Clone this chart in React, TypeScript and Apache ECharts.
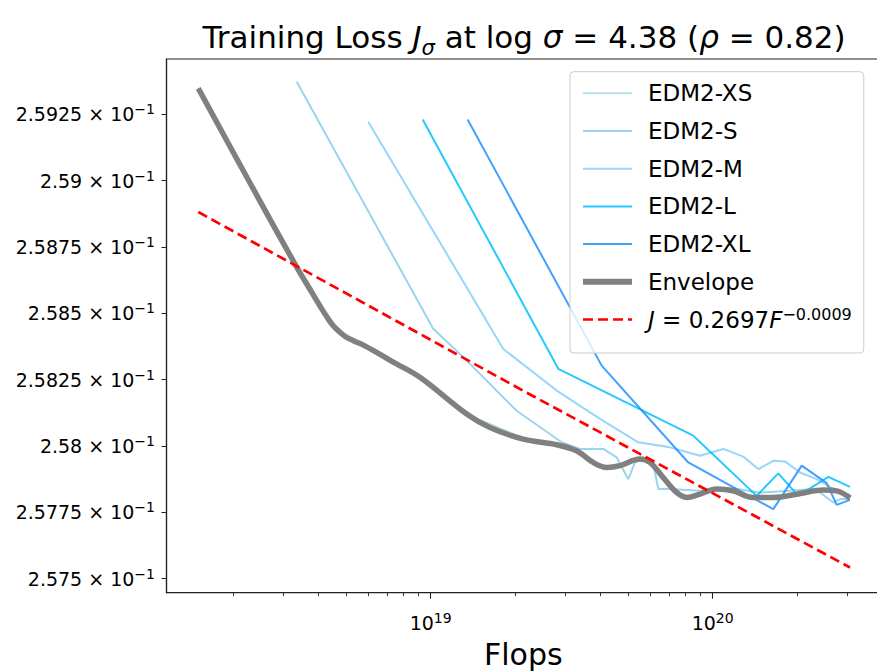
import React, { useEffect, useRef } from "react";
import * as echarts from "echarts";

const FONT = "DejaVu Sans";

const modelNames = ["EDM2-XS", "EDM2-S", "EDM2-M", "EDM2-L", "EDM2-XL"];
const modelColors = ["#ADD8E6", "#87CEEB", "#87CEFA", "#00BFFF", "#1E90FF"];
const envelopeName = "Envelope";
const fitName = "J = 0.2697F^-0.0009";

// EDM2-XS (mostly beneath the envelope)
const xsFlops = [1.5e18, 3.35e18, 4.5e18, 6.4e18, 9.2e18, 1.34e19, 2.13e19, 2.8e19];
const xsLoss = [0.25935, 0.25867, 0.25845, 0.25835, 0.25826, 0.25812, 0.25803, 0.258];

const sFlops = [3.35e18, 1.021e19, 1.305e19, 2.018e19, 2.914e19, 3.383e19, 4.094e19, 4.567e19, 5.02e19, 5.302e19, 5.834e19, 6.157e19, 6.414e19, 7.057e19, 9.016e19, 1.152e20, 1.472e20, 1.88e20, 2.306e20, 2.677e20, 2.828e20, 3.069e20];
const sLoss = [0.259373, 0.258442, 0.258335, 0.258133, 0.258014, 0.257989, 0.257989, 0.257957, 0.257875, 0.257938, 0.257957, 0.257932, 0.257838, 0.257838, 0.257831, 0.257843, 0.257824, 0.257831, 0.257839, 0.257787, 0.2578, 0.2578];

const mFlops = [6.006e18, 1.809e19, 2.798e19, 3.985e19, 5.447e19, 7.057e19, 9.016e19, 1.09e20, 1.284e20, 1.451e20, 1.64e20, 1.805e20, 2.04e20, 2.338e20, 2.828e20, 3.069e20];
const mLoss = [0.259222, 0.258366, 0.258209, 0.258102, 0.258014, 0.257995, 0.257963, 0.257989, 0.25796, 0.257913, 0.257944, 0.257942, 0.2579, 0.257875, 0.257824, 0.257816];

const lFlops = [9.368e18, 2.835e19, 8.536e19, 1.432e20, 1.708e20, 2.012e20, 2.57e20, 3.069e20];
const lLoss = [0.259231, 0.258291, 0.258039, 0.257812, 0.257897, 0.257812, 0.257884, 0.257846];

const xlFlops = [1.352e19, 4.041e19, 8.195e19, 1.64e20, 2.069e20, 2.537e20, 2.753e20, 3.069e20];
const xlLoss = [0.259231, 0.258303, 0.257938, 0.257762, 0.257926, 0.25786, 0.257778, 0.257797];

const envelopeFlops = [1.5e18, 2.23e18, 3.35e18, 3.79e18, 4.051e18, 4.289e18, 4.505e18, 4.731e18, 5.008e18, 5.346e18, 5.706e18, 6.43e18, 7.37e18, 9.16e18, 1.342e19, 1.623e19, 2.13e19, 2.8e19, 3.29e19, 3.77e19, 4.21e19, 4.69e19, 5.52e19, 5.99e19, 6.68e19, 7.45e19, 8.09e19, 9.02e19, 1.033e20, 1.18e20, 1.39e20, 1.64e20, 2.04e20, 2.47e20, 2.75e20, 3.07e20];
const envelopeLoss = [0.259348, 0.259013, 0.258674, 0.258579, 0.258528, 0.258486, 0.258454, 0.258432, 0.258411, 0.258396, 0.258383, 0.258353, 0.258316, 0.258259, 0.258121, 0.25807, 0.258026, 0.258005, 0.257982, 0.257938, 0.257919, 0.257926, 0.257951, 0.257938, 0.257881, 0.257825, 0.257806, 0.257819, 0.257838, 0.257831, 0.257806, 0.257806, 0.257821, 0.257834, 0.257831, 0.257804];

const fitFlops = [1.5e18, 2.14e19, 3.07e20];
const fitLoss = [0.258882, 0.258207, 0.257542];

const xMajorTicks = [1e19, 1e20];
const xMinorTicks = [2e18, 3e18, 4e18, 5e18, 6e18, 7e18, 8e18, 9e18, 2e19, 3e19, 4e19, 5e19, 6e19, 7e19, 8e19, 9e19, 2e20, 3e20];
const yTicks = [0.2575, 0.25775, 0.258, 0.25825, 0.2585, 0.25875, 0.259, 0.25925];

const xMin = 1.157e18;
const xMax = 3.92e20;
const yMin = 0.2574471;
const yMax = 0.2594588;

const zip = (a: number[], b: number[]) => a.map((v, i) => [v, b[i]]);
const modelFlops = [xsFlops, sFlops, mFlops, lFlops, xlFlops];
const modelLoss = [xsLoss, sLoss, mLoss, lLoss, xlLoss];

export default function App() {
  const ref = useRef<HTMLDivElement>(null);
  useEffect(() => {
    if (!ref.current) return;
    const chart = echarts.init(ref.current, undefined, { renderer: "svg" });
    const lgMin = Math.log10(xMin);
    const lgMax = Math.log10(xMax);
    const series: any[] = modelNames.map((name, i) => ({
      name,
      type: "line",
      xAxisIndex: 0,
      yAxisIndex: 0,
      data: zip(modelFlops[i], modelLoss[i]),
      symbol: "none",
      itemStyle: { color: modelColors[i] },
      lineStyle: { color: modelColors[i], width: 2, opacity: 0.85 },
      z: 2,
    }));
    series.push({
      name: envelopeName,
      type: "line",
      data: zip(envelopeFlops, envelopeLoss),
      symbol: "none",
      smooth: 0.35,
      itemStyle: { color: "#808080" },
      lineStyle: { color: "#808080", width: 5.5 },
      z: 3,
    });
    series.push({
      name: fitName,
      type: "line",
      data: zip(fitFlops, fitLoss),
      symbol: "none",
      itemStyle: { color: "#ff0000" },
      lineStyle: { color: "#ff0000", width: 2.7, type: [10, 5] },
      z: 4,
    });
    const option: any = {
      animation: false,
      title: {
        text: "{n|Training Loss }{i|J}{sub|σ}{n| at log }{i|σ}{n| = 4.38 (}{i|ρ}{n| = 0.82)}",
        left: 524,
        top: 16,
        textAlign: "center",
        padding: 0,
        textStyle: {
          fontFamily: FONT,
          fontWeight: "normal",
          fontSize: 31,
          color: "#000",
          rich: {
            n: { fontFamily: FONT, fontSize: 31, lineHeight: 42, color: "#000" },
            i: { fontFamily: FONT, fontSize: 31, lineHeight: 42, fontStyle: "italic", color: "#000" },
            sub: { fontFamily: FONT, fontSize: 21, lineHeight: 24, fontStyle: "italic", verticalAlign: "bottom", color: "#000" },
          },
        },
      },
      grid: {
        left: 166.5,
        right: -3,
        top: 59,
        bottom: 79.3,
        show: true,
        borderColor: "#222",
        borderWidth: 1.2,
        containLabel: false,
        outerBoundsMode: "none",
      },
      legend: {
        orient: "vertical",
        left: 570,
        top: 71.7,
        padding: [8.6, 12, 20.5, 10],
        itemWidth: 49,
        itemHeight: 14,
        itemGap: 11.7,
        backgroundColor: "rgba(255,255,255,0.8)",
        borderColor: "#cccccc",
        borderWidth: 1,
        borderRadius: 4,
        itemStyle: { opacity: 0, borderWidth: 0 },
        textStyle: {
          fontFamily: FONT,
          fontSize: 23,
          lineHeight: 26,
          color: "#000",
          padding: [0, 0, 0, 11],
          rich: {
            i: { fontFamily: FONT, fontSize: 23, lineHeight: 26, fontStyle: "italic", color: "#000" },
            sup: { fontFamily: FONT, fontSize: 16, lineHeight: 14, verticalAlign: "top", color: "#000" },
          },
        },
        formatter: (name: string) =>
          name === fitName ? "{i|J} = 0.2697{i|F}{sup|−0.0009}" : name,
        data: [
          ...modelNames.map((n) => ({ name: n })),
          { name: envelopeName, lineStyle: { width: 6 } },
          { name: fitName, lineStyle: { width: 2.7 } },
        ],
      },
      xAxis: [
        {
          type: "log",
          logBase: 10,
          min: xMin,
          max: xMax,
          show: false,
          splitLine: { show: false },
        },
        {
          type: "value",
          min: lgMin,
          max: lgMax,
          position: "bottom",
          name: "Flops",
          nameLocation: "middle",
          nameGap: 47,
          nameTextStyle: { fontFamily: FONT, fontSize: 30, color: "#000" },
          axisLine: { show: true, lineStyle: { color: "#222", width: 1.2 } },
          axisTick: {
            show: true,
            customValues: xMajorTicks.map((v) => Math.log10(v)),
            length: 6,
            lineStyle: { color: "#222", width: 1.1 },
          },
          axisLabel: {
            customValues: xMajorTicks.map((v) => Math.log10(v)),
            margin: 18,
            formatter: (v: number) => `{m|10}{sup|${Math.round(v)}}`,
            rich: {
              m: { fontFamily: FONT, fontSize: 19, lineHeight: 24, color: "#000" },
              sup: { fontFamily: FONT, fontSize: 14, lineHeight: 12, verticalAlign: "top", color: "#000" },
            },
          },
          splitLine: { show: false },
        },
        {
          type: "value",
          min: lgMin,
          max: lgMax,
          position: "bottom",
          axisLine: { show: false },
          axisTick: {
            show: true,
            customValues: xMinorTicks.map((v) => Math.log10(v)),
            length: 3.5,
            lineStyle: { color: "#222", width: 0.9 },
          },
          axisLabel: { show: false },
          splitLine: { show: false },
        },
      ],
      yAxis: [
        {
          type: "value",
          min: yMin,
          max: yMax,
          axisLine: { show: true, lineStyle: { color: "#222", width: 1.2 } },
          axisTick: {
            show: true,
            customValues: yTicks,
            length: 5,
            lineStyle: { color: "#222", width: 1 },
          },
          axisLabel: {
            customValues: yTicks,
            margin: 11.5,
            formatter: (v: number) => {
              const s = parseFloat((v * 10).toFixed(5)).toString();
              return `{m|${s} × 10}{sup|−1}`;
            },
            rich: {
              m: { fontFamily: FONT, fontSize: 19, lineHeight: 24, color: "#000" },
              sup: { fontFamily: FONT, fontSize: 14, lineHeight: 12, verticalAlign: "top", color: "#000" },
            },
          },
          splitLine: { show: false },
        },
      ],
      series,
    };
    chart.setOption(option);
    return () => chart.dispose();
  }, []);
  return (
    <div
      ref={ref}
      style={{ position: "absolute", left: 0, top: 0, width: 877, height: 672, background: "#fff" }}
    />
  );
}
